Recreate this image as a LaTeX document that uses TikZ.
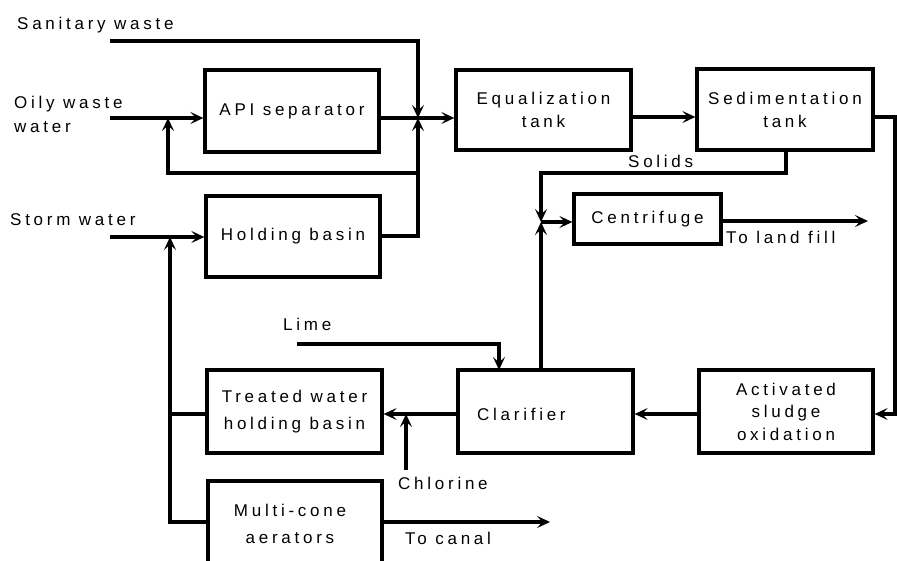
\documentclass[tikz,border=0pt]{standalone}
\usepackage{fontspec}
\setmainfont{Liberation Sans}[LetterSpace=22]
\usetikzlibrary{arrows.meta}
\begin{document}
\begin{tikzpicture}[x=1pt,y=-1pt,
  box/.style={draw, rectangle, inner sep=0pt, align=center, line width=3.3pt},
  lbl/.style={inner sep=0pt, align=left},
  pipe/.style={line width=3.3pt},
  flow/.style={line width=3.3pt, -{Stealth[length=13pt,width=12pt,inset=5.5pt]}},
  font=\fontsize{17}{23}\selectfont]
\useasboundingbox (0,0) rectangle (897,561);
\clip (0,0) rectangle (897,561);
% boxes
\node[box, minimum width=174pt, minimum height=82pt] (api) at (292,111) {API separator};
\node[box, minimum width=174pt, minimum height=81pt] (hold) at (293,236.5) {Holding basin};
\node[box, minimum width=175pt, minimum height=80pt] (eq) at (543.5,110) {Equalization\\tank};
\node[box, minimum width=176pt, minimum height=81pt] (sed) at (785,109.5) {Sedimentation\\tank};
\node[box, minimum width=147pt, minimum height=50pt] (cent) at (647.5,219) {Centrifuge};
\node[box, minimum width=175pt, minimum height=83pt] (clar) at (545.5,411.5) {};
\node[lbl, anchor=west] (clartxt) at (477,414) {Clarifier};
\node[box, minimum width=174pt, minimum height=83pt, font=\fontsize{17}{22.5}\selectfont] (act) at (786,411.5) {Activated\\sludge\\oxidation};
\node[box, minimum width=175pt, minimum height=83pt, font=\fontsize{17}{27}\selectfont] (treat) at (294.5,411.5) {Treated water\\holding basin};
\node[box, minimum width=174pt, minimum height=120pt] (multi) at (295,541) {};
\node[lbl, align=center, font=\fontsize{17}{27}\selectfont] (multitxt) at (290,524) {Multi-cone\\aerators};
% labels
\node[lbl, anchor=west] (san) at (17,25) {Sanitary waste};
\node[lbl, anchor=west, font=\fontsize{17}{24}\selectfont] (oily) at (14,114) {Oily waste\\water};
\node[lbl, anchor=west] (storm) at (10,220) {Storm water};
\node[lbl, anchor=west] (solids) at (628,161) {Solids};
\node[lbl, anchor=west] (land) at (726,237) {To land fill};
\node[lbl, anchor=west] (lime) at (283,324) {Lime};
\node[lbl, anchor=west] (chlor) at (398,483) {Chlorine};
\node[lbl, anchor=west] (canal) at (405,538) {To canal};
% coordinates
\coordinate (j1) at (418,118);
\coordinate (sanS) at (110,41);
\coordinate (oilyS) at (110,118);
\coordinate (stormS) at (110,237);
\coordinate (jL) at (170,237);
\coordinate (jC) at (541,222);
\coordinate (limeS) at (297,344);
\coordinate (chlS) at (406,470);
\coordinate (landE) at (868,221);
\coordinate (canalE) at (550,522);
% connectors
\draw[flow] (sanS) -- (418,41) -- (j1);
\draw[flow] (oilyS) -- (api.west |- oilyS);
\draw[flow] (418,173) -- (168,173) -- (168,118);
\draw[flow] (api.east |- j1) -- (eq.west |- j1);
\draw[flow] (hold.east |- 0,236) -- (418,236) -- (j1);
\draw[flow] (stormS) -- (hold.west |- stormS);
\draw[pipe] (treat.west |- 0,414) -- (170,414);
\draw[flow] (multi.west |- canalE) -- (170,522) -- (jL);
\draw[flow] (eq.east |- 0,117) -- (sed.west |- 0,117);
\draw[flow] (sed.east |- 0,117) -- (895,117) -- (895,414) -- (act.east |- 0,414);
\draw[flow] (act.west |- 0,414) -- (clar.east |- 0,414);
\draw[flow] (clar.west |- 0,414) -- (treat.east |- 0,414);
\draw[flow] (chlS) -- (406,414);
\draw[flow] (limeS) -- (499,344) -- (499 ,370);
\draw[flow] (786,150) -- (786,173) -- (541,173) -- (jC);
\draw[flow] (541,370) -- (jC);
\draw[flow] (jC) -- (cent.west |- jC);
\draw[flow] (cent.east |- landE) -- (landE);
\draw[flow] (multi.east |- canalE) -- (canalE);
\end{tikzpicture}
\end{document}
